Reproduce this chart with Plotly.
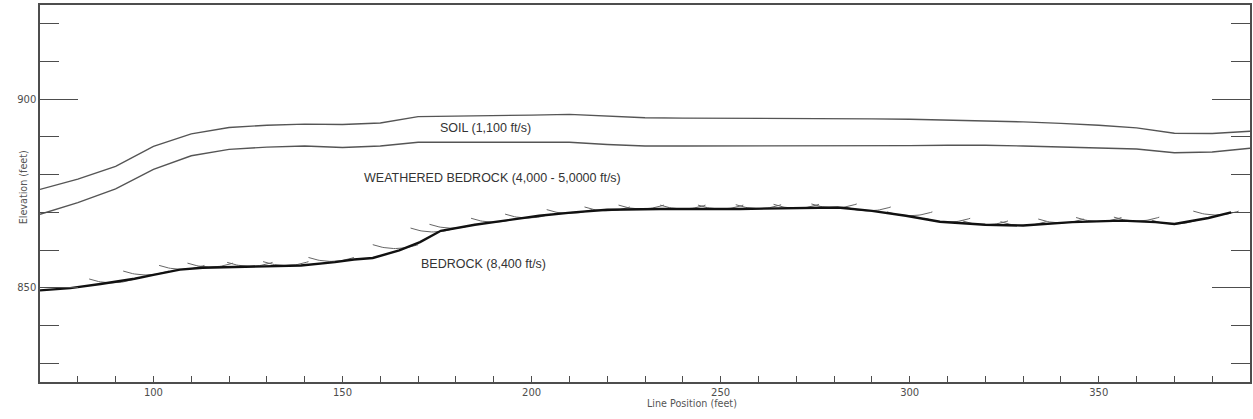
import plotly.graph_objects as go
import numpy as np

# ---------------- data ----------------
station_x = [70, 80, 90, 100, 110, 120, 130, 140, 150, 160, 170, 180, 190, 200, 210,
             220, 230, 240, 250, 260, 270, 280, 290, 300, 310, 320, 330, 340, 350,
             360, 370, 380, 390]
ground_surface = [876.1, 878.8, 882.2, 887.5, 890.8, 892.5, 893.1, 893.4, 893.3, 893.7,
                  895.4, 895.5, 895.6, 895.8, 896.0, 895.6, 895.1, 895.0, 895.0, 895.0,
                  895.0, 894.9, 894.8, 894.7, 894.5, 894.4, 894.0, 893.6, 893.1, 892.4,
                  891.0, 890.9, 891.5]
soil_base = [869.5, 872.6, 876.2, 881.4, 885.0, 886.7, 887.3, 887.6, 887.2, 887.6,
             888.6, 888.6, 888.6, 888.6, 888.6, 888.0, 887.6, 887.6, 887.6, 887.6,
             887.6, 887.6, 887.7, 887.7, 887.8, 887.8, 887.6, 887.3, 887.1, 886.8,
             885.8, 886.0, 887.0]

bedrock_x = [70, 78, 86, 95, 100, 107, 113, 122, 130, 139, 148, 153, 158, 165, 170.5,
             176, 185, 193, 202, 211, 220, 234, 255, 281, 290, 299, 308, 320, 330, 343,
             356, 365, 370, 379, 385]
bedrock_y = [849.3, 849.9, 851.0, 852.4, 853.4, 854.8, 855.3, 855.5, 855.6, 855.9,
             856.8, 857.5, 857.9, 859.9, 862.1, 865.1, 866.7, 867.8, 869.1, 870.0,
             870.7, 870.9, 870.9, 871.3, 870.4, 869.1, 867.5, 866.7, 866.5, 867.4,
             867.8, 867.4, 866.9, 868.5, 870.0]

# bottom points of the delay-time arcs
arc_x = [89, 98, 107.5, 115, 125.5, 135, 147, 164, 174, 179, 190, 199, 210, 220, 229,
         240, 250, 260, 270, 280, 289, 300, 310, 320, 330, 340, 350, 360, 370, 381]
arc_y = [851.3, 853.4, 854.9, 855.5, 855.7, 855.9, 857.0, 860.4, 864.8, 865.8, 867.4,
         868.5, 869.7, 870.4, 870.9, 870.9, 870.9, 871.0, 871.1, 871.2, 870.4, 869.1,
         867.4, 866.7, 866.5, 867.2, 867.6, 867.7, 866.9, 869.3]

layer_labels = ["SOIL (1,100 ft/s)", "WEATHERED BEDROCK (4,000 - 5,0000 ft/s)",
                "BEDROCK (8,400 ft/s)"]
label_x = [187.9, 189.7, 187.2]
label_y = [892.3, 879.05, 856.3]

x_range = [70, 390]
y_range = [825, 925]

# ---------------- styles ----------------
ARC_RADIUS = 18.0
ARC_HALF = 6.0
AX = "#4d4d4d"
LINE = "#555555"
TICKFONT = dict(family="DejaVu Sans", size=10, color="#4d4d4d")

# build arc polylines
ax_pts, ay_pts = [], []
for cx, by in zip(arc_x, arc_y):
    dx = np.linspace(-ARC_HALF, ARC_HALF, 25)
    yy = by + ARC_RADIUS - np.sqrt(ARC_RADIUS ** 2 - dx ** 2)
    ax_pts += list(cx + dx) + [None]
    ay_pts += list(yy) + [None]

fig = go.Figure()
fig.add_trace(go.Scatter(x=station_x, y=ground_surface, mode="lines",
                         line=dict(color=LINE, width=1.4), hoverinfo="skip"))
fig.add_trace(go.Scatter(x=station_x, y=soil_base, mode="lines",
                         line=dict(color=LINE, width=1.4), hoverinfo="skip"))
fig.add_trace(go.Scatter(x=ax_pts, y=ay_pts, mode="lines",
                         line=dict(color="#666666", width=1.0), hoverinfo="skip"))
fig.add_trace(go.Scatter(x=bedrock_x, y=bedrock_y, mode="lines",
                         line=dict(color="#111111", width=2.4), hoverinfo="skip"))
fig.add_trace(go.Scatter(x=[None], y=[None], yaxis="y2", showlegend=False))

for t, lx, ly in zip(layer_labels, label_x, label_y):
    fig.add_annotation(x=lx, y=ly, xref="x", yref="y", text=t, showarrow=False,
                       font=dict(family="Liberation Sans", size=12.5, color="#333333"))

fig.add_annotation(x=0.5386, y=-0.0761, xref="paper", yref="paper",
                   text="Line Position (feet)", showarrow=False,
                   font=dict(family="DejaVu Sans", size=9.6, color="#555555"))
fig.add_annotation(x=-0.0201, y=0.517, xref="paper", yref="paper",
                   text="Elevation (feet)", showarrow=False, textangle=-90,
                   font=dict(family="DejaVu Sans", size=9.6, color="#555555"))

yax_common = dict(range=y_range, showgrid=False, zeroline=False, showline=True,
                  linecolor=AX, linewidth=1.5, ticks="inside", ticklen=38,
                  tickwidth=1.3, tickcolor=AX, tick0=850, dtick=50,
                  minor=dict(ticks="inside", ticklen=19, tickwidth=1.3,
                             tickcolor=AX, tick0=850, dtick=10, showgrid=False))

fig.update_layout(
    width=1253, height=419,
    margin=dict(l=40, r=3, t=5, b=37),
    paper_bgcolor="white", plot_bgcolor="white",
    showlegend=False,
    xaxis=dict(range=x_range, showgrid=False, zeroline=False, showline=True,
               linecolor=AX, linewidth=1.5, mirror=True, ticks="inside",
               ticklen=6, tickwidth=1.2, tickcolor=AX, tick0=0, dtick=50,
               tickfont=TICKFONT,
               minor=dict(ticks="inside", ticklen=6, tickwidth=1.2, tickcolor=AX,
                          tick0=0, dtick=10, showgrid=False)),
    yaxis=dict(**yax_common, side="left", tickfont=TICKFONT),
    yaxis2=dict(**yax_common, side="right", overlaying="y", anchor="x",
                showticklabels=False),
)

fig.write_html("out.html")
